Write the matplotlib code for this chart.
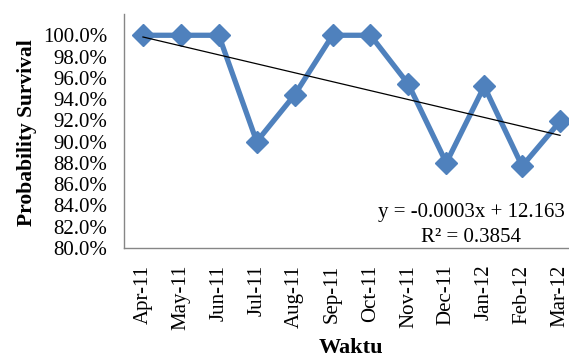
import numpy as np
import matplotlib
matplotlib.use('Agg')
import matplotlib.pyplot as plt
from matplotlib.ticker import FuncFormatter

# data
months = ['Apr-11', 'May-11', 'Jun-11', 'Jul-11', 'Aug-11', 'Sep-11',
          'Oct-11', 'Nov-11', 'Dec-11', 'Jan-12', 'Feb-12', 'Mar-12']
survival = [100.0, 100.0, 100.0, 90.0, 94.4, 100.0,
            100.0, 95.4, 88.0, 95.2, 87.7, 91.9]
y_ticks = [80, 82, 84, 86, 88, 90, 92, 94, 96, 98, 100]
eq_text = 'y = -0.0003x + 12.163'
r2_text = 'R² = 0.3854'

plt.rcParams['font.family'] = ['Liberation Serif', 'DejaVu Serif']

fig = plt.figure(figsize=(5.69, 3.6), dpi=100)
# axes spans past the right edge like the cropped original
ax = fig.add_axes([124 / 569, 1 - 248 / 360, (579 - 124) / 569, (248 - 14) / 360])

x = np.arange(len(months))
ax.plot(x, survival, color='#4F81BD', lw=3.8, marker='D', markersize=11,
        clip_on=False, zorder=3)

# linear trendline
slope, icpt = np.polyfit(x, survival, 1)
ax.plot(x, slope * x + icpt, color='black', lw=0.9, zorder=4)

ax.set_xlim(-0.5, 11.5)
ax.set_ylim(80, 102)
ax.set_yticks(y_ticks)
ax.yaxis.set_major_formatter(FuncFormatter(lambda v, p: '%.1f%%' % v))
ax.set_xticks(x)
ax.set_xticklabels(months, rotation=90)
ax.tick_params(axis='both', length=0, labelsize=15)
ax.tick_params(axis='y', pad=12)
ax.tick_params(axis='x', pad=12)

for s in ['top', 'right']:
    ax.spines[s].set_visible(False)
for s in ['left', 'bottom']:
    ax.spines[s].set_color('#868686')
    ax.spines[s].set_linewidth(1)

fig.text(27 / 569, 1 - 133 / 360, 'Probability Survival', rotation=90,
         ha='center', va='center', fontsize=15.5, fontweight='bold')
fig.text(351 / 569, 1 - 348 / 360, 'Waktu', ha='center', va='center',
         fontsize=16, fontweight='bold')

fig.text(471 / 569, 1 - 212 / 360, eq_text, ha='center', va='center', fontsize=15)
fig.text(471 / 569, 1 - 237 / 360, r2_text, ha='center', va='center', fontsize=15)

fig.savefig('out.png', dpi=100)
